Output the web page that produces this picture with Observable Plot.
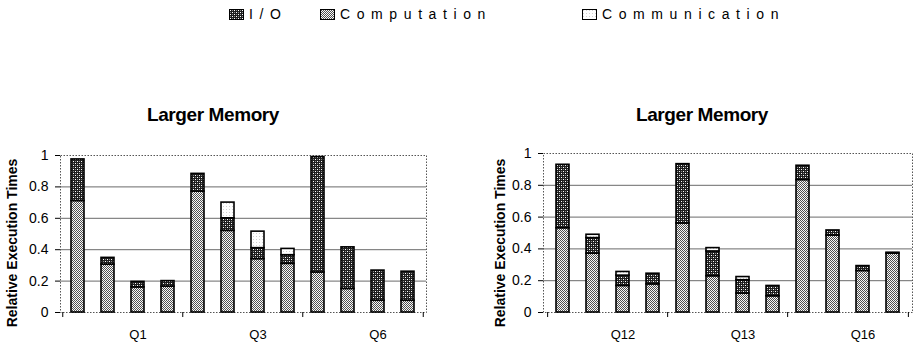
<!DOCTYPE html>
<html>
<head>
<meta charset="utf-8">
<script src="https://cdn.jsdelivr.net/npm/d3@7"></script>
<script src="https://cdn.jsdelivr.net/npm/@observablehq/plot@0.6"></script>
<style>
  html, body { margin: 0; padding: 0; background: #fff; }
  #root { position: relative; width: 920px; height: 353px; overflow: hidden; font-family: "Liberation Sans", Arial, sans-serif; color: #000; }
  .abs { position: absolute; }
  .title { font-weight: bold; font-size: 19px; letter-spacing: -0.4px; transform: translateX(-50%); white-space: nowrap; }
  .ylab { font-weight: bold; font-size: 14px; white-space: nowrap; transform: translate(-50%, -50%) rotate(-90deg); }
  .leg { font-size: 14px; letter-spacing: 6.6px; white-space: nowrap; display: flex; align-items: center; }
</style>
</head>
<body>
<svg width="0" height="0" style="position:absolute">
  <defs>
    <pattern id="pComp" width="2" height="2" patternUnits="userSpaceOnUse">
      <rect width="2" height="2" fill="#f8f8f8"/>
      <rect x="0" y="0" width="1" height="1" fill="#505050"/>
      <rect x="1" y="1" width="1" height="1" fill="#505050"/>
    </pattern>
    <pattern id="pIO" width="4" height="4" patternUnits="userSpaceOnUse">
      <rect width="4" height="4" fill="#1e1e1e"/>
      <rect x="1" y="1" width="1" height="1" fill="#ffffff"/>
      <rect x="3" y="3" width="1" height="1" fill="#ffffff"/>
      <rect x="3" y="1" width="1" height="1" fill="#8a8a8a"/>
      <rect x="1" y="3" width="1" height="1" fill="#8a8a8a"/>
    </pattern>
    <pattern id="pComm" width="3" height="3" patternUnits="userSpaceOnUse">
      <rect width="3" height="3" fill="#ffffff"/>
      <rect x="1" y="1" width="1" height="1" fill="#d0d0d0"/>
    </pattern>
  </defs>
</svg>
<div id="root"></div>
<script>
// ---- data ----
const seriesNames = ["Computation", "I/O", "Communication"];
const legendLabels = ["I/O", "Computation", "Communication"];
const panelTitle = "Larger Memory";
const yLabel = "Relative Execution Times";
const yTicks = [0, 0.2, 0.4, 0.6, 0.8, 1];

const leftGroups = ["Q1", "Q3", "Q6"];
const leftComputation = [0.71, 0.305, 0.16, 0.165, 0.77, 0.52, 0.34, 0.31, 0.255, 0.15, 0.075, 0.075];
const leftIO          = [0.265, 0.043, 0.035, 0.035, 0.113, 0.08, 0.07, 0.055, 0.735, 0.265, 0.192, 0.185];
const leftComm        = [0, 0, 0, 0, 0, 0.10, 0.105, 0.04, 0, 0, 0, 0];

const rightGroups = ["Q12", "Q13", "Q16"];
const rightComputation = [0.53, 0.37, 0.167, 0.177, 0.56, 0.228, 0.119, 0.102, 0.833, 0.484, 0.261, 0.37];
const rightIO          = [0.399, 0.098, 0.065, 0.067, 0.373, 0.156, 0.084, 0.065, 0.09, 0.032, 0.031, 0.006];
const rightComm        = [0, 0.021, 0.023, 0, 0, 0.021, 0.02, 0, 0, 0, 0, 0];

const fills = ["url(#pComp)", "url(#pIO)", "url(#pComm)"];

const root = document.getElementById("root");

function panel(groups, comp, io, comm, cfg) {
  const ids = comp.map((_, i) => String(i));
  const rows = [];
  comp.forEach((v, i) => {
    [v, io[i], comm[i]].forEach((val, k) => {
      if (val > 0) rows.push({bar: ids[i], series: seriesNames[k], value: val});
    });
  });
  const innerW = cfg.width - cfg.ml - cfg.mr;
  const step = innerW / ids.length;
  const labelIds = groups.map((g, gi) => ids[gi * 4 + 2]);
  const boundaryStart = groups.map((g, gi) => ids[gi * 4]);
  const chart = Plot.plot({
    width: cfg.width,
    height: 253,
    marginLeft: cfg.ml,
    marginRight: cfg.mr,
    marginTop: cfg.mt,
    marginBottom: 41,
    style: {fontFamily: '"Liberation Sans", Arial, sans-serif', fontSize: "13px", color: "#000", background: "transparent"},
    x: {domain: ids, paddingInner: 0.56, paddingOuter: 0.28, axis: null},
    y: {domain: [0, 1], axis: null},
    color: {domain: seriesNames, range: fills},
    marks: [
      Plot.ruleY([0.2, 0.4, 0.6, 0.8], {stroke: "#6a6a6a", strokeWidth: 1}),
      Plot.frame({stroke: "#555", strokeDasharray: "1.5,1.5", strokeWidth: 1}),
      Plot.barY(rows, {x: "bar", y: "value", fill: "series", stroke: "#000", strokeWidth: 1.6, order: seriesNames}),
      Plot.axisY(yTicks, {tickSize: 5, tickPadding: 7, tickFormat: d => String(d), fontSize: 14, label: null}),
      Plot.axisX(labelIds, {tickSize: 0, tickPadding: 17, tickFormat: (d, i) => groups[i], fontSize: 13, label: null}),
      Plot.ruleX(boundaryStart, {x: d => d, y1: 0, y2: 0, insetBottom: -5, dx: -step / 2, stroke: "#000"}),
      Plot.ruleX([ids[ids.length - 1]], {x: d => d, y1: 0, y2: 0, insetBottom: -5, dx: step / 2, stroke: "#000"})
    ]
  });
  chart.style.position = "absolute";
  chart.style.left = cfg.left + "px";
  chart.style.top = "100px";
  root.appendChild(chart);

  const t = document.createElement("div");
  t.className = "abs title";
  t.textContent = panelTitle;
  t.style.left = cfg.titleX + "px";
  t.style.top = "104px";
  root.appendChild(t);

  const yl = document.createElement("div");
  yl.className = "abs ylab";
  yl.textContent = yLabel;
  yl.style.left = cfg.ylabX + "px";
  yl.style.top = "243px";
  root.appendChild(yl);
}

panel(leftGroups, leftComputation, leftIO, leftComm,
  {width: 460, ml: 60, mr: 34, mt: 55, left: 0, titleX: 213, ylabX: 12});
panel(rightGroups, rightComputation, rightIO, rightComm,
  {width: 460, ml: 83, mr: 8, mt: 53, left: 460, titleX: 702, ylabX: 500});

// legend
const legendX = [229, 320, 582];
const legendFill = {"I/O": "url(#pIO)", "Computation": "url(#pComp)", "Communication": "url(#pComm)"};
legendLabels.forEach((name, i) => {
  const item = document.createElement("div");
  item.className = "abs leg";
  item.style.left = legendX[i] + "px";
  item.style.top = "6px";
  const sw = document.createElementNS("http://www.w3.org/2000/svg", "svg");
  sw.setAttribute("width", 15);
  sw.setAttribute("height", 11);
  sw.style.marginRight = "5px";
  const r = document.createElementNS("http://www.w3.org/2000/svg", "rect");
  r.setAttribute("x", 0.5); r.setAttribute("y", 0.5);
  r.setAttribute("width", 14); r.setAttribute("height", 10);
  r.setAttribute("fill", legendFill[name]);
  r.setAttribute("stroke", "#000");
  sw.appendChild(r);
  item.appendChild(sw);
  const s = document.createElement("span");
  s.textContent = name;
  item.appendChild(s);
  root.appendChild(item);
});
</script>
</body>
</html>
